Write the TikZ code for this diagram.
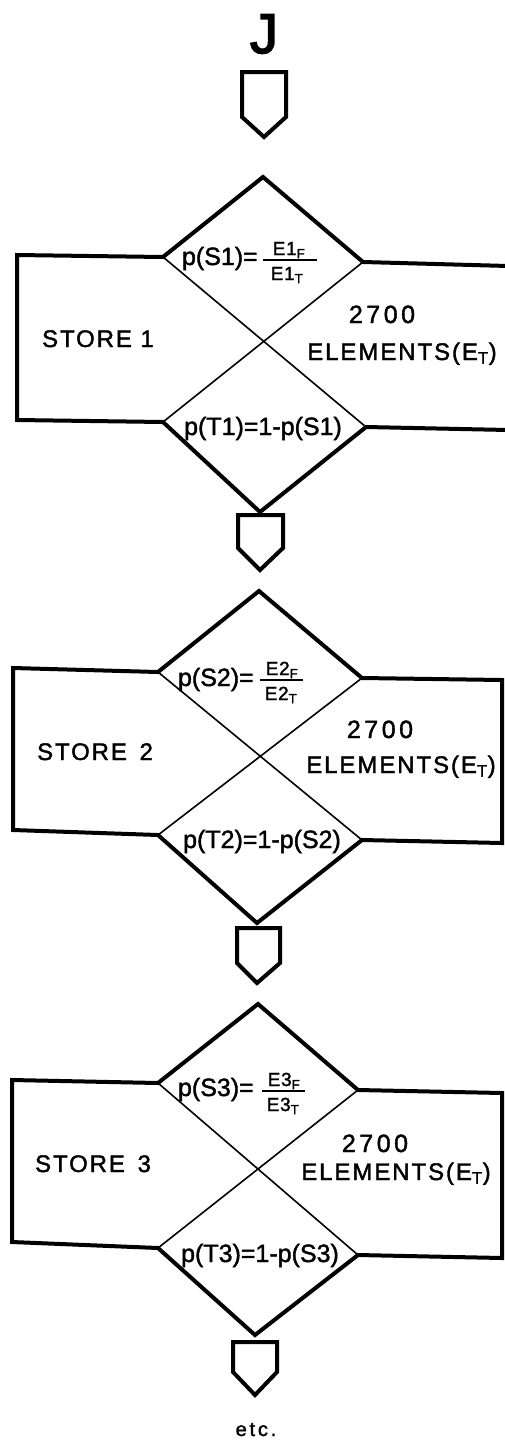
\documentclass[tikz,border=0pt]{standalone}
\usepackage{fontspec}
\setmainfont{Liberation Sans}
\newfontfamily\lbf[FakeBold=1.6]{Liberation Sans}
\newfontfamily\lbsp[LetterSpace=8,FakeBold=1.6]{Liberation Sans}
\newfontfamily\lbwide[LetterSpace=14,FakeBold=1.6]{Liberation Sans}
\newfontfamily\lbfr[LetterSpace=4,FakeBold=1.6]{Liberation Sans}
\newfontfamily\lbj[FakeBold=3]{Liberation Sans}
\begin{document}
\begin{tikzpicture}[x=1pt,y=-1pt,
  outline/.style={line width=4pt, line join=miter},
  cross/.style={line width=1.6pt},
  fracbar/.style={line width=2.4pt},
  tag/.style={inner sep=0pt, outer sep=0pt},
  plab/.style={tag, font=\lbf\fontsize{25}{28}\selectfont},
  blab/.style={tag, font=\lbsp\fontsize{24}{28}\selectfont, anchor=base},
  numlab/.style={tag, font=\lbfr\fontsize{19}{22}\selectfont, anchor=base}]
\useasboundingbox (0,0) rectangle (505,1443);

% ---------- top ----------
\node[tag, font=\lbj\fontsize{56}{60}\selectfont, anchor=base] (J) at (264,53) {J};
\draw[outline] (242,72) -- (286,72) -- (286,117) -- (264,137) coordinate (tip0) -- (242,117) -- cycle;

% ---------- block 1 ----------
\coordinate (t1) at (263,177);
\coordinate (ul1) at (163,257);
\coordinate (ur1) at (363,262);
\coordinate (ll1) at (163,422);
\coordinate (lr1) at (366,427);
\coordinate (b1) at (260,512);
\draw[outline] (508,266) -- (ur1) -- (t1) -- (ul1) -- (17,255) -- (17,420) -- (ll1) -- (b1) -- (lr1) -- (508,430);
\draw[cross] (ul1) -- (lr1) (ur1) -- (ll1);
\node[plab, anchor=base west] (ps1) at (182,265) {p(S1)=};
\node[numlab] (f1n) at (289,255) {E1\textsubscript{F}};
\node[numlab] (f1d) at (287,280) {E1\textsubscript{T}};
\draw[fracbar] (263,260) -- (317,260);
\node[blab] (store1) at (98,347) {STORE 1};
\node[blab, font=\lbwide\fontsize{25}{28}\selectfont] (num1) at (382,323) {2700};
\node[blab] (elem1) at (402,360) {ELEMENTS(E\textsubscript{T})};
\node[plab, anchor=base] (pt1) at (263,435) {p(T1)=1-p(S1)};

\draw[outline] (238,515) -- (283,515) -- (283,548) -- (260,570) coordinate (tip1) -- (238,548) -- cycle;

% ---------- block 2 ----------
\coordinate (t2) at (259,591);
\coordinate (ul2) at (158,672);
\coordinate (ur2) at (362,678);
\coordinate (ll2) at (158,835);
\coordinate (lr2) at (362,840);
\coordinate (b2) at (257,923);
\draw[outline] (ur2) -- (t2) -- (ul2) -- (13,668) -- (13,830) -- (ll2) -- (b2) -- (lr2) -- (502,843) -- (502,680) -- cycle;
\draw[cross] (ul2) -- (lr2) (ur2) -- (ll2);
\node[plab, anchor=base west] (ps2) at (178,686) {p(S2)=};
\node[numlab] (f2n) at (282,675) {E2\textsubscript{F}};
\node[numlab] (f2d) at (281,700) {E2\textsubscript{T}};
\draw[fracbar] (260,680) -- (303,680);
\node[blab] (store2) at (95,760) {STORE\, 2};
\node[blab, font=\lbwide\fontsize{25}{28}\selectfont] (num2) at (380,738) {2700};
\node[blab] (elem2) at (401,773) {ELEMENTS(E\textsubscript{T})};
\node[plab, anchor=base] (pt2) at (262,848) {p(T2)=1-p(S2)};

\draw[outline] (237,928) -- (280,928) -- (280,963) -- (257,983) coordinate (tip2) -- (237,963) -- cycle;

% ---------- block 3 ----------
\coordinate (t3) at (258,1004);
\coordinate (ul3) at (158,1083);
\coordinate (ur3) at (358,1090);
\coordinate (ll3) at (158,1248);
\coordinate (lr3) at (358,1255);
\coordinate (b3) at (255,1335);
\draw[outline] (ur3) -- (t3) -- (ul3) -- (12,1080) -- (12,1242) -- (ll3) -- (b3) -- (lr3) -- (502,1258) -- (502,1093) -- cycle;
\draw[cross] (ul3) -- (lr3) (ur3) -- (ll3);
\node[plab, anchor=base west] (ps3) at (178,1096) {p(S3)=};
\node[numlab] (f3n) at (284,1086) {E3\textsubscript{F}};
\node[numlab] (f3d) at (283,1111) {E3\textsubscript{T}};
\draw[fracbar] (262,1091) -- (305,1091);
\node[blab] (store3) at (93,1172) {STORE\, 3};
\node[blab, font=\lbwide\fontsize{25}{28}\selectfont] (num3) at (375,1152) {2700};
\node[blab] (elem3) at (396,1180) {ELEMENTS(E\textsubscript{T})};
\node[plab, anchor=base] (pt3) at (260,1262) {p(T3)=1-p(S3)};

\draw[outline] (233,1342) -- (277,1342) -- (277,1372) -- (255,1395) coordinate (tip3) -- (233,1372) -- cycle;

\node[tag, font=\lbwide\fontsize{20}{24}\selectfont, anchor=base] (etc) at (256,1436) {etc.};
\end{tikzpicture}
\end{document}
